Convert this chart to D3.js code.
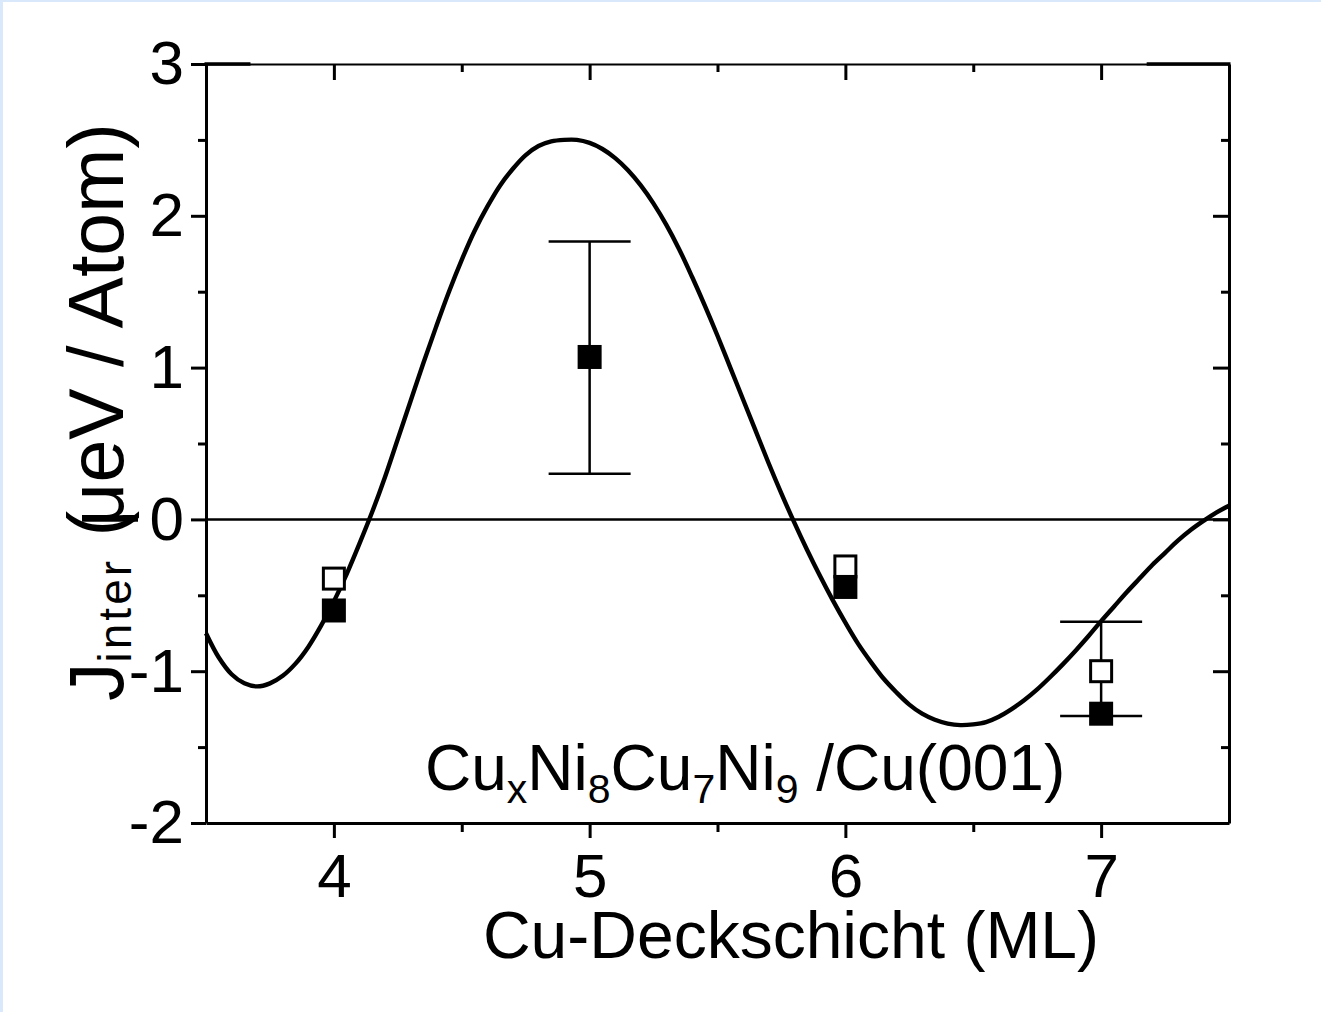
<!DOCTYPE html>
<html>
<head>
<meta charset="utf-8">
<script src="https://cdn.jsdelivr.net/npm/d3@7"></script>
<style>
  html, body { margin: 0; padding: 0; background: #ffffff; }
  svg { display: block; }
  text { font-family: "Liberation Sans", Arial, sans-serif; fill: #000; }
</style>
</head>
<body>
<svg id="chart" width="1321" height="1012"></svg>
<script>
// Measured interlayer coupling J_inter for Cu_x Ni8 Cu7 Ni9 / Cu(001)
const capThickness = [4, 5, 6, 7];                 // Cu cap layer (ML), filled symbols
const filledValues = [-0.60, 1.07, -0.445, -1.28];
const openThickness = [4, 6, 7];                   // open symbols
const openValues = [-0.39, -0.31, -1.00];
const errorThickness = [5, 7];
const errorLow = [0.30, -1.295];
const errorHigh = [1.83, -0.675];

// Theory curve, sampled along the drawn line
const curveX = [3.50, 3.55, 3.60, 3.65, 3.70, 3.75, 3.80, 3.85, 3.90, 3.95,
                4.00, 4.05, 4.10, 4.15, 4.20, 4.25, 4.30, 4.35, 4.40, 4.45,
                4.50, 4.55, 4.60, 4.65, 4.70, 4.75, 4.80, 4.85, 4.90, 4.95,
                5.00, 5.05, 5.10, 5.15, 5.20, 5.25, 5.30, 5.35, 5.40, 5.45,
                5.50, 5.55, 5.60, 5.65, 5.70, 5.75, 5.80, 5.85, 5.90, 5.95,
                6.00, 6.05, 6.10, 6.15, 6.20, 6.25, 6.30, 6.35, 6.40, 6.45,
                6.50, 6.55, 6.60, 6.65, 6.70, 6.75, 6.80, 6.85, 6.90, 6.95,
                7.00, 7.05, 7.10, 7.15, 7.20, 7.25, 7.30, 7.35, 7.40, 7.45,
                7.50];
const curveY = [-0.75, -0.91, -1.02, -1.08, -1.10, -1.08, -1.03, -0.95, -0.84, -0.70,
                -0.54, -0.36, -0.16, 0.05, 0.28, 0.53, 0.78, 1.03, 1.27, 1.50,
                1.71, 1.90, 2.06, 2.20, 2.31, 2.40, 2.46, 2.49, 2.50, 2.50,
                2.48, 2.44, 2.38, 2.30, 2.20, 2.08, 1.94, 1.78, 1.60, 1.41,
                1.21, 1.00, 0.79, 0.58, 0.37, 0.17, -0.02, -0.20, -0.37, -0.53,
                -0.68, -0.82, -0.94, -1.05, -1.14, -1.22, -1.28, -1.32, -1.345, -1.355,
                -1.35, -1.335, -1.30, -1.25, -1.19, -1.12, -1.04, -0.955, -0.865, -0.77,
                -0.67, -0.575, -0.48, -0.39, -0.30, -0.22, -0.14, -0.07, -0.01, 0.045,
                0.09];

const xMajorTicks = [4, 5, 6, 7];
const xMinorTicks = [4.5, 5.5, 6.5];
const yMajorTicks = [-2, -1, 0, 1, 2, 3];
const yMinorTicks = [-1.5, -0.5, 0.5, 1.5, 2.5];

const svg = d3.select("#chart");
const W = 1321, H = 1012;

// page frame: pale blue strip at the left and top edges
svg.append("rect").attr("x", 0).attr("y", 0).attr("width", W).attr("height", H).attr("fill", "#d9e8fb");
svg.append("rect").attr("x", 3).attr("y", 2).attr("width", W - 3).attr("height", H - 2).attr("fill", "#ffffff");

const plot = { left: 206, right: 1229, top: 64, bottom: 823 };

const x = d3.scaleLinear().domain([3.5, 7.5]).range([plot.left, plot.right]);
const y = d3.scaleLinear().domain([-2, 3]).range([plot.bottom, plot.top]);

const tickFont = 62;
const plainNumber = d => String(d);   // keeps the short hyphen for negatives

function styleAxis(g, width) {
  g.select(".domain").attr("stroke", "#000").attr("stroke-width", width);
  g.selectAll(".tick line").attr("stroke", "#000").attr("stroke-width", 3);
  g.selectAll(".tick text").style("font-size", tickFont + "px")
    .style("font-family", '"Liberation Sans", Arial, sans-serif').attr("fill", "#000");
}

// zero line
svg.append("line")
  .attr("x1", x(3.5)).attr("x2", x(7.5))
  .attr("y1", y(0)).attr("y2", y(0))
  .attr("stroke", "#000").attr("stroke-width", 2.5);

// theory curve
const line = d3.line()
  .x((d, i) => x(curveX[i]))
  .y((d, i) => y(curveY[i]))
  .curve(d3.curveCatmullRom.alpha(0.5));

svg.append("path")
  .attr("d", line(curveX))
  .attr("fill", "none")
  .attr("stroke", "#000")
  .attr("stroke-width", 4.4)
  .attr("stroke-linejoin", "round");

// error bars
const capHalf = 41;
const eb = svg.append("g").attr("stroke", "#000").attr("stroke-width", 2.5);
errorThickness.forEach((t, i) => {
  eb.append("line").attr("x1", x(t)).attr("x2", x(t))
    .attr("y1", y(errorHigh[i])).attr("y2", y(errorLow[i]));
  eb.append("line").attr("x1", x(t) - capHalf).attr("x2", x(t) + capHalf)
    .attr("y1", y(errorHigh[i])).attr("y2", y(errorHigh[i]));
  eb.append("line").attr("x1", x(t) - capHalf).attr("x2", x(t) + capHalf)
    .attr("y1", y(errorLow[i])).attr("y2", y(errorLow[i]));
});

// open squares
const sq = 24;
svg.append("g").selectAll("rect")
  .data(openThickness)
  .join("rect")
  .attr("x", d => x(d) - sq / 2 + 1.5)
  .attr("y", (d, i) => y(openValues[i]) - sq / 2 + 1.5)
  .attr("width", sq - 3).attr("height", sq - 3)
  .attr("fill", "#fff").attr("stroke", "#000").attr("stroke-width", 3);

// filled squares
svg.append("g").selectAll("rect")
  .data(capThickness)
  .join("rect")
  .attr("x", d => x(d) - sq / 2)
  .attr("y", (d, i) => y(filledValues[i]) - sq / 2)
  .attr("width", sq).attr("height", sq)
  .attr("fill", "#000");

// axes
const gLeft = svg.append("g").attr("transform", `translate(${plot.left},0)`)
  .call(d3.axisLeft(y).tickValues(yMajorTicks).tickSize(15).tickSizeOuter(0).tickPadding(7).tickFormat(plainNumber));
styleAxis(gLeft, 3);
svg.append("g").attr("transform", `translate(${plot.left},0)`)
  .call(d3.axisLeft(y).tickValues(yMinorTicks).tickSize(8).tickFormat(""))
  .call(g => { g.select(".domain").remove(); g.selectAll(".tick line").attr("stroke", "#000").attr("stroke-width", 3); });

const gBottom = svg.append("g").attr("transform", `translate(0,${plot.bottom})`)
  .call(d3.axisBottom(x).tickValues(xMajorTicks).tickSize(15).tickSizeOuter(0).tickPadding(15).tickFormat(plainNumber));
styleAxis(gBottom, 3);
svg.append("g").attr("transform", `translate(0,${plot.bottom})`)
  .call(d3.axisBottom(x).tickValues(xMinorTicks).tickSize(9).tickFormat(""))
  .call(g => { g.select(".domain").remove(); g.selectAll(".tick line").attr("stroke", "#000").attr("stroke-width", 3); });

const gRight = svg.append("g").attr("transform", `translate(${plot.right},0)`)
  .call(d3.axisRight(y).tickValues(yMajorTicks.slice(1, -1)).tickSize(-16).tickSizeOuter(0).tickFormat(""));
styleAxis(gRight, 3);
svg.append("g").attr("transform", `translate(${plot.right},0)`)
  .call(d3.axisRight(y).tickValues(yMinorTicks).tickSize(-8).tickFormat(""))
  .call(g => { g.select(".domain").remove(); g.selectAll(".tick line").attr("stroke", "#000").attr("stroke-width", 3); });

const gTop = svg.append("g").attr("transform", `translate(0,${plot.top})`)
  .call(d3.axisTop(x).tickValues(xMajorTicks).tickSize(-16).tickSizeOuter(0).tickFormat(""));
styleAxis(gTop, 2);
svg.append("g").attr("transform", `translate(0,${plot.top})`)
  .call(d3.axisTop(x).tickValues(xMinorTicks).tickSize(-8).tickFormat(""))
  .call(g => { g.select(".domain").remove(); g.selectAll(".tick line").attr("stroke", "#000").attr("stroke-width", 3); });
// heavier top edge near both corners
[[3.5, 3.668], [7.184, 7.5]].forEach(([a, b]) => {
  svg.append("line").attr("x1", x(a) - 1.5).attr("x2", x(b) + 1.5)
    .attr("y1", plot.top).attr("y2", plot.top)
    .attr("stroke", "#000").attr("stroke-width", 3.5);
});

// x-axis title
svg.append("text")
  .attr("x", 791).attr("y", 958)
  .attr("text-anchor", "middle")
  .style("font-size", "66px")
  .text("Cu-Deckschicht (ML)");

// y-axis title
const yt = svg.append("text")
  .attr("transform", "translate(123,412) rotate(-90)")
  .attr("text-anchor", "middle")
  .style("font-size", "77px");
yt.append("tspan").text("J");
yt.append("tspan").attr("dy", 8).style("font-size", "46px").attr("letter-spacing", 3).text("inter");
yt.append("tspan").attr("dy", -8).text(" (");
yt.append("tspan").attr("dx", -16).text("μeV / Atom)");

// sample annotation
const ann = svg.append("text")
  .attr("x", 425).attr("y", 790)
  .style("font-size", "64px");
ann.append("tspan").text("Cu");
ann.append("tspan").attr("dy", 13).style("font-size", "41px").text("x");
ann.append("tspan").attr("dy", -13).text("Ni");
ann.append("tspan").attr("dy", 13).style("font-size", "41px").text("8");
ann.append("tspan").attr("dy", -13).text("Cu");
ann.append("tspan").attr("dy", 13).style("font-size", "41px").text("7");
ann.append("tspan").attr("dy", -13).text("Ni");
ann.append("tspan").attr("dy", 13).style("font-size", "41px").text("9");
ann.append("tspan").attr("dy", -13).text(" /Cu(001)");
</script>
</body>
</html>
